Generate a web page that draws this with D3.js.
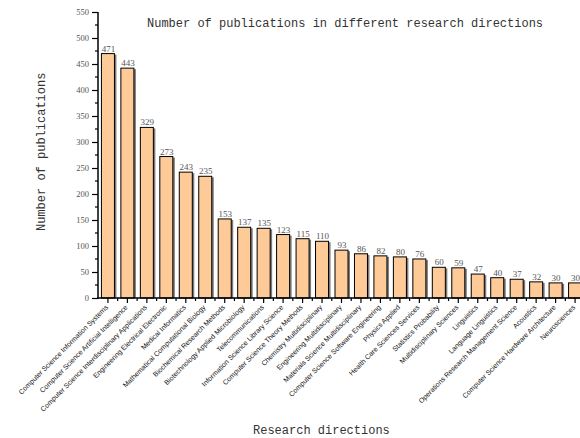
<!DOCTYPE html>
<html><head><meta charset="utf-8">
<script src="https://cdn.jsdelivr.net/npm/d3@7"></script>
<style>body{margin:0;background:#fff}svg{display:block}</style>
</head><body>
<svg id="c" width="580" height="438"></svg>
<script>
const categories = [
 "Computer Science Information Systems","Computer Science Artificial Intelligence",
 "Computer Science Interdisciplinary Applications","Engineering Electrical Electronic",
 "Medical Informatics","Mathematical Computational Biology","Biochemical Research Methods",
 "Biotechnology Applied Microbiology","Telecommunications","Information Science Library Science",
 "Computer Science Theory Methods","Chemistry Multidisciplinary","Engineering Multidisciplinary",
 "Materials Science Multidisciplinary","Computer Science Software Engineering","Physics Applied",
 "Health Care Sciences Services","Statistics Probability","Multidisciplinary Sciences",
 "Linguistics","Language Linguistics","Operations Research Management Science","Acoustics",
 "Computer Science Hardware Architecture","Neurosciences"];
const values = [471,443,329,273,243,235,153,137,135,123,115,110,93,86,82,80,76,60,59,47,40,37,32,30,30];
const yTicks = [0,50,100,150,200,250,300,350,400,450,500,550];
const title = "Number of publications in different research directions";
const xTitle = "Research directions";
const yTitle = "Number of publications";

const svg = d3.select("#c");
const x0 = 98, y0 = 298, yTop = 12;
const x = d3.scaleBand().domain(categories).range([x0, 585]).paddingInner(0.28).paddingOuter(0.15);
const y = d3.scaleLinear().domain([0, 550]).range([y0, yTop]);
const mono = "'Liberation Mono','Courier New',monospace";
const serif = "'Liberation Serif','Times New Roman',serif";

// bars: shadow then bar
const g = svg.append("g");
g.selectAll("rect.sh").data(values).join("rect").attr("class","sh")
  .attr("x",(d,i)=>x(categories[i])+1.5).attr("y",d=>y(d)+1.5)
  .attr("width",x.bandwidth()).attr("height",d=>y0-y(d)-1.5).attr("fill","#7a7a7a");
g.selectAll("rect.b").data(values).join("rect").attr("class","b")
  .attr("x",(d,i)=>x(categories[i])+0.5).attr("y",d=>y(d)+0.5)
  .attr("width",x.bandwidth()-1).attr("height",d=>y0-y(d)-0.5)
  .attr("fill","#FDCA98").attr("stroke","#000").attr("stroke-width",1);
// value labels
g.selectAll("text.v").data(values).join("text").attr("class","v")
  .attr("x",(d,i)=>x(categories[i])+x.bandwidth()/2+0.5).attr("y",d=>y(d)-1.5)
  .attr("text-anchor","middle").attr("font-family",serif).attr("font-size",9)
  .attr("fill","#555").text(d=>d);

// y axis
const yAxis = d3.axisLeft(y).tickValues(yTicks).tickSize(6).tickPadding(3);
const ya = svg.append("g").attr("transform",`translate(${x0},0)`).call(yAxis);
ya.select(".domain").remove();
ya.selectAll("line").attr("stroke","#000").attr("stroke-width",1.2);
ya.selectAll("text").attr("font-family",serif).attr("font-size",8.5).attr("fill","#555");
const yMinor = d3.range(25, 550, 50);
svg.append("g").selectAll("line").data(yMinor).join("line")
  .attr("x1",x0-3).attr("x2",x0).attr("y1",d=>y(d)).attr("y2",d=>y(d))
  .attr("stroke","#000").attr("stroke-width",1.2);
svg.append("line").attr("x1",x0).attr("x2",x0).attr("y1",yTop).attr("y2",y0+1)
  .attr("stroke","#000").attr("stroke-width",1.5);

// x axis
const xAxis = d3.axisBottom(x).tickSize(5).tickFormat("");
const xa = svg.append("g").attr("transform",`translate(0,${y0})`).call(xAxis);
xa.select(".domain").remove();
xa.selectAll("line").attr("stroke","#000").attr("stroke-width",1.2);
svg.append("g").selectAll("line").data(categories).join("line")
  .attr("x1",d=>x(d)+x.bandwidth()/2+x.step()/2).attr("x2",d=>x(d)+x.bandwidth()/2+x.step()/2)
  .attr("y1",y0).attr("y2",y0+3).attr("stroke","#000").attr("stroke-width",1.2);
svg.append("line").attr("x1",x0-0.75).attr("x2",580).attr("y1",y0).attr("y2",y0)
  .attr("stroke","#000").attr("stroke-width",1.5);
svg.append("g").selectAll("text").data(categories).join("text")
  .attr("transform",d=>`translate(${x(d)+x.bandwidth()/2-1},${y0+8}) rotate(-45)`)
  .attr("text-anchor","end").attr("dy","0.35em")
  .attr("font-family","'Liberation Sans',Arial,sans-serif").attr("font-size",7)
  .attr("fill","#111").text(d=>d);

// titles
svg.append("text").attr("x",147).attr("y",27).attr("font-family",mono).attr("font-size",12)
  .attr("fill","#333").text(title);
svg.append("text").attr("x",253).attr("y",434)
  .attr("font-family",mono).attr("font-size",12)
  .attr("fill","#333").text(xTitle);
svg.append("text").attr("transform","translate(45,231) rotate(-90)")
  .attr("font-family",mono).attr("font-size",12)
  .attr("fill","#333").text(yTitle);
</script>
</body></html>
